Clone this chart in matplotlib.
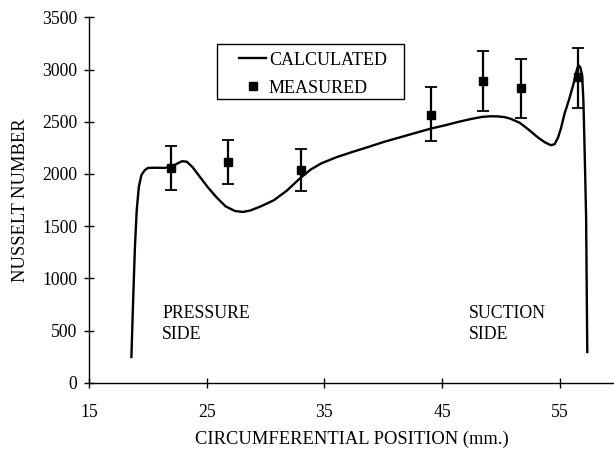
import matplotlib
matplotlib.use("Agg")
import matplotlib.pyplot as plt
from matplotlib.lines import Line2D
from matplotlib.patches import Rectangle

plt.rcParams['font.family'] = ['Liberation Serif', 'DejaVu Serif']

# Calculated curve (circumferential position mm, Nusselt number)
calc_x = [18.6, 18.75, 18.9, 19.05, 19.23, 19.45, 19.73, 20.0, 20.6, 21.4, 22.0, 22.5,
          22.9, 23.3, 23.8, 24.4, 25.07, 25.8, 26.6, 27.4, 28.07, 28.7, 29.6, 30.7,
          31.8, 32.9, 33.8, 34.7, 36.0, 37.4, 38.7, 40.07, 42.0, 44.07, 45.3, 46.4,
          47.5, 48.4, 49.1, 49.7, 50.3, 50.8, 51.6, 52.4, 53.07, 53.7,
          54.23, 54.55, 54.85, 55.1, 55.4, 55.8, 56.13, 56.4, 56.57, 56.75, 56.9, 57.0,
          57.07, 57.15, 57.23, 57.33]
calc_y = [246, 800, 1300, 1650, 1876, 1990, 2036, 2058, 2060, 2058, 2068, 2100,
          2122, 2118, 2065, 1975, 1876, 1780, 1690, 1645, 1636, 1650, 1690, 1748,
          1840, 1956, 2040, 2100, 2160, 2212, 2258, 2308, 2370, 2436, 2468, 2500,
          2528, 2547, 2553, 2552, 2545, 2530, 2490, 2420, 2356, 2305,
          2276, 2285, 2350, 2440, 2579, 2720, 2851, 2980, 3043, 3020, 2931, 2700,
          2388, 2000, 1589, 294]

# Measured data with error bars
meas_x = [22.0, 26.83, 32.97, 44.03, 48.5, 51.67, 56.5]
meas_y = [2058, 2116, 2042, 2570, 2889, 2826, 2931]
err_lo = [207, 214, 207, 253, 287, 288, 297]
err_hi = [208, 214, 202, 265, 288, 274, 278]

xticks = [15, 25, 35, 45, 55]
yticks = [0, 500, 1000, 1500, 2000, 2500, 3000, 3500]

fig = plt.figure(figsize=(6.14, 4.5), dpi=100)
ax = fig.add_axes([0.145, 0.1496, 0.855, 0.8116])

ax.plot(calc_x, calc_y, color='black', lw=1.7)
ax.errorbar(meas_x, meas_y, yerr=[err_lo, err_hi], fmt='s', color='black',
            ms=5.3, ecolor='black', elinewidth=1.6, capsize=4.3, capthick=1.3)

ax.set_xlim(15, 59.6)
ax.set_ylim(0, 3500)
ax.set_xticks(xticks)
ax.set_yticks(yticks)
ax.spines['top'].set_visible(False)
ax.spines['right'].set_visible(False)
ax.spines['left'].set_linewidth(1.0)
ax.spines['bottom'].set_linewidth(1.0)
ax.tick_params(direction='inout', length=7, width=1.0, labelsize=12.7)
ax.tick_params(axis='x', pad=12)
ax.tick_params(axis='y', pad=5)

ax.set_xlabel('CIRCUMFERENTIAL POSITION (mm.)', fontsize=13.3, labelpad=7)
ax.set_ylabel('NUSSELT NUMBER', fontsize=13.3, labelpad=9)

ax.text(21.2, 745, 'PRESSURE\nSIDE', fontsize=12.8, va='top', ha='left', linespacing=1.3)
ax.text(47.3, 745, 'SUCTION\nSIDE', fontsize=12.8, va='top', ha='left', linespacing=1.3)

# legend box
ax.add_patch(Rectangle((0.2438, 0.7769), 0.3562, 0.1505, transform=ax.transAxes,
                       fill=True, facecolor='white', edgecolor='black', lw=1.0,
                       zorder=4))
handles = [Line2D([], [], color='black', lw=1.7),
           Line2D([], [], color='black', marker='s', ms=5.3, ls='none')]
leg = ax.legend(handles, ['CALCULATED', 'MEASURED'], loc='upper left',
                bbox_to_anchor=(0.2705, 0.9285), borderaxespad=0, fontsize=13,
                frameon=False, handlelength=1.5,
                handletextpad=0.15, borderpad=0.45, labelspacing=0.6)
leg.set_zorder(5)

fig.savefig('out.png', dpi=100)
